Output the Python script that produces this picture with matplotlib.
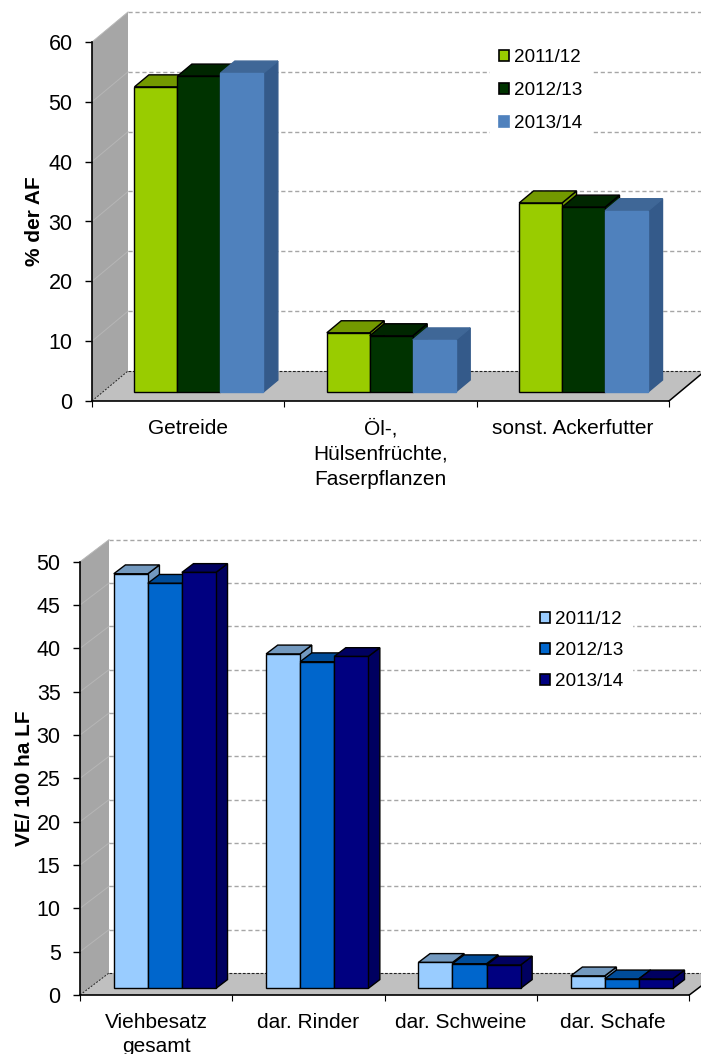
import matplotlib
matplotlib.use('Agg')
import matplotlib.pyplot as plt
from matplotlib.patches import Patch, Polygon

plt.rcParams['font.family'] = ['Liberation Sans', 'DejaVu Sans']

W = 701
H = 1054

# Daten oberes Diagramm
years = ['2011/12', '2012/13', '2013/14']
crops = ['Getreide', 'Öl-,\nHülsenfrüchte,\nFaserpflanzen', 'sonst. Ackerfutter']
crops_2011 = [51.0, 9.9, 31.6]
crops_2012 = [52.8, 9.4, 30.9]
crops_2013 = [53.3, 8.7, 30.3]
crops_ticks = [0, 10, 20, 30, 40, 50, 60]

# Daten unteres Diagramm
stock = ['Viehbesatz\ngesamt', 'dar. Rinder', 'dar. Schweine', 'dar. Schafe']
stock_2011 = [47.85, 38.6, 3.0, 1.45]
stock_2012 = [46.75, 37.7, 2.85, 1.1]
stock_2013 = [48.0, 38.3, 2.7, 1.1]
stock_ticks = [0, 5, 10, 15, 20, 25, 30, 35, 40, 45, 50]

# Farben: Vorderseite, Oberseite, Seite, Rand
crops_colors = [('#99CC00', '#739900', '#739900', 'black'),
                ('#003300', '#002600', '#002600', 'black'),
                ('#4F81BD', '#3F6797', '#345A8A', '#4F81BD')]
stock_colors = [('#99CCFF', '#7399BF', '#7399BF', 'black'),
                ('#0066CC', '#004C99', '#004C99', 'black'),
                ('#000080', '#000060', '#000060', 'black')]

BAR_W = 0.2235


def add_axes(fig, left, right, y0, ytop):
    return fig.add_axes([left / W, 1 - y0 / H, (right - left) / W, (y0 - ytop) / H])


def draw_chart(ax, cats, series, colors, ticks, depth_px, ylabel, label_x, label_y, cat_pad, spacing):
    n = len(cats)
    ymax = ticks[-1]
    ax.set_xlim(0, n)
    ax.set_ylim(0, ymax)
    box = ax.get_position()
    dx = depth_px[0] / (box.width * W) * n
    dy = depth_px[1] / (box.height * H) * ymax

    # Wand und Boden
    ax.add_patch(Polygon([(0, 0), (dx, dy), (dx, ymax + dy), (0, ymax)], closed=True,
                         fc='#A6A6A6', ec='none', clip_on=False, zorder=1))
    ax.add_patch(Polygon([(0, 0), (n, 0), (n + dx, dy), (dx, dy)], closed=True,
                         fc='#C0C0C0', ec='none', clip_on=False, zorder=1))
    for t in ticks:
        if t > 0:
            ax.plot([0, dx], [t, t + dy], color='#B6B6B6', lw=0.7, clip_on=False, zorder=2)
            ax.plot([dx, n + dx], [t + dy, t + dy], color='#A6A6A6', lw=1.0,
                    dashes=(3, 2), clip_on=False, zorder=2)
    ax.plot([dx, n + dx], [dy, dy], color='#222222', lw=0.8, dashes=(2.5, 1.5), clip_on=False, zorder=2)
    ax.plot([0, dx], [0, dy], color='#222222', lw=0.7, dashes=(2, 1.5), clip_on=False, zorder=2)
    ax.plot([n, n + dx], [0, dy], color='black', lw=1.1, clip_on=False, zorder=2)

    # Balken von links nach rechts
    z = 4
    for i in range(n):
        for j, values in enumerate(series):
            face, top, side, edge = colors[j]
            x0 = i + 0.5 + 0.3 * dx + (j - 1.5) * BAR_W
            x1 = x0 + BAR_W
            y0 = 0.3 * dy
            y1 = y0 + values[i]
            ddx = 0.4 * dx
            ddy = 0.4 * dy
            ax.add_patch(Polygon([(x1, y0), (x1 + ddx, y0 + ddy), (x1 + ddx, y1 + ddy), (x1, y1)],
                                 closed=True, fc=side, ec=edge if edge == 'black' else side,
                                 lw=1.0, clip_on=False, zorder=z))
            ax.add_patch(Polygon([(x0, y1), (x1, y1), (x1 + ddx, y1 + ddy), (x0 + ddx, y1 + ddy)],
                                 closed=True, fc=top, ec=edge if edge == 'black' else top,
                                 lw=1.0, clip_on=False, zorder=z))
            ax.bar(x0, values[i], BAR_W, bottom=y0, align='edge', color=face, edgecolor=edge,
                   linewidth=1.0, clip_on=False, zorder=z + 0.5)
            z += 1

    ax.patch.set_visible(False)
    ax.spines['top'].set_visible(False)
    ax.spines['right'].set_visible(False)
    ax.spines['left'].set_linewidth(1.2)
    ax.spines['bottom'].set_linewidth(1.2)
    ax.spines['left'].set_zorder(200)
    ax.spines['bottom'].set_zorder(200)
    ax.set_yticks(ticks)
    ax.set_xticks(range(n + 1))
    ax.set_xticklabels([])
    ax.set_xticks([i + 0.5 for i in range(n)], cats, minor=True, linespacing=spacing)
    ax.tick_params(axis='y', labelsize=15.5, length=5, width=1, pad=9)
    ax.tick_params(axis='x', which='major', length=4.5, width=0.8)
    ax.tick_params(axis='x', which='minor', length=0, labelsize=15, pad=cat_pad)
    ax.set_ylabel(ylabel, fontsize=15, fontweight='bold')
    ax.yaxis.set_label_coords(label_x, label_y)


def draw_legend(fig, ax, colors, left, top, row_gap):
    handles = [Patch(facecolor=c[0], edgecolor=c[3], linewidth=1.2, label=y)
               for c, y in zip(colors, years)]
    leg = ax.legend(handles=handles, loc='upper left', bbox_to_anchor=(left / W, 1 - top / H),
                    bbox_transform=fig.transFigure, frameon=True, facecolor='white', edgecolor='white',
                    framealpha=1, fancybox=False, borderaxespad=0, fontsize=13.6, handlelength=0.54,
                    handleheight=0.54, handletextpad=0.22, labelspacing=row_gap, borderpad=0.49)
    leg.set_zorder(100)


fig = plt.figure(figsize=(W / 100, H / 100), dpi=100, facecolor='white')

ax1 = add_axes(fig, 92, 669, 401, 42)
draw_chart(ax1, crops, [crops_2011, crops_2012, crops_2013], crops_colors, crops_ticks, (36, 30),
           '% der AF', -0.084, 0.5, 13, 1.42)
draw_legend(fig, ax1, crops_colors, 490, 40, 0.85)

ax2 = add_axes(fig, 80, 689.3, 995, 561.7)
draw_chart(ax2, stock, [stock_2011, stock_2012, stock_2013], stock_colors, stock_ticks, (29, 22),
           'VE/ 100 ha LF', -0.075, 0.5, 13, 1.3)
draw_legend(fig, ax2, stock_colors, 531, 602, 0.74)

fig.savefig('out.png', dpi=100)
